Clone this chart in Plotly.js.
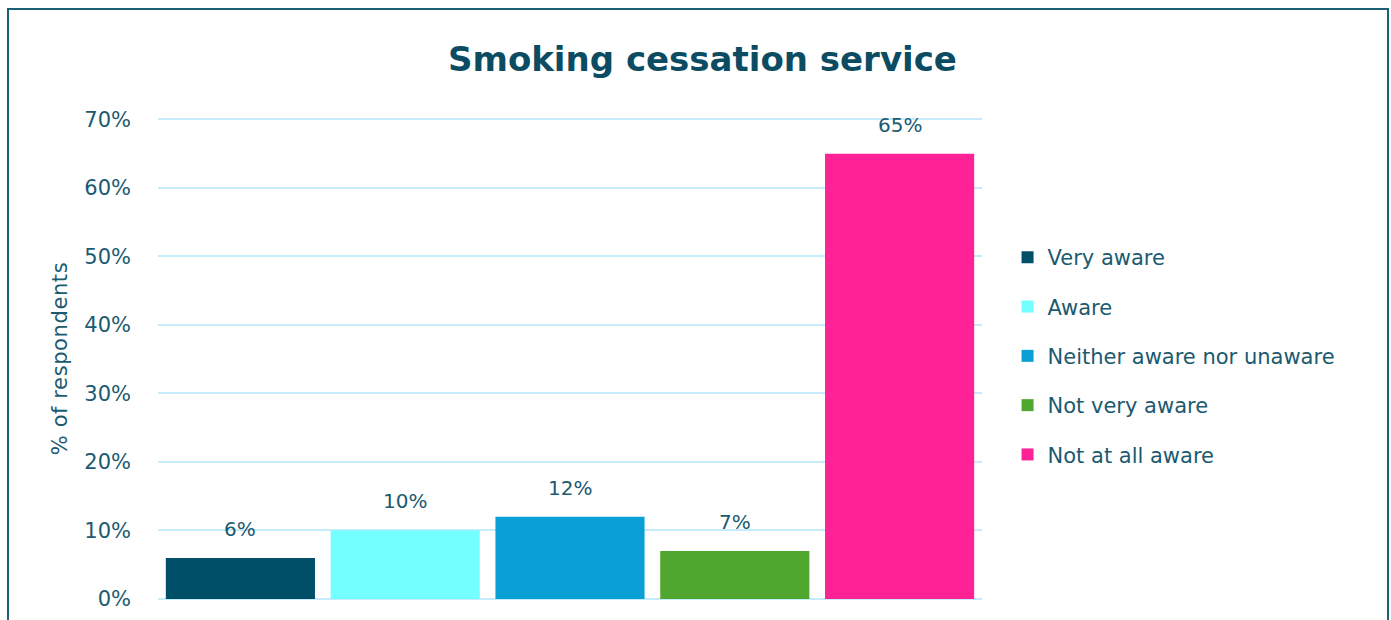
<!DOCTYPE html>
<html>
<head>
<meta charset="utf-8">
<script src="https://cdn.plot.ly/plotly-3.0.1.min.js"></script>
<style>
html,body{margin:0;padding:0;background:#fff;overflow:hidden;}
#chart{width:1391px;height:620px;}
#frame{position:absolute;left:7px;top:8px;width:1378px;height:640px;border:2px solid #1d5f74;pointer-events:none;}
#chart text.ytitle {letter-spacing:0.6px;}
</style>
</head>
<body>
<div id="chart"></div>
<div id="frame"></div>
<script>
const categories = ["Very aware","Aware","Neither aware nor unaware","Not very aware","Not at all aware"];
const values = [6,10,12,7,65];
const colors = ["#004f69","#73ffff","#0aa0d6","#4fa72f","#ff2196"];
const yTicks = [0,10,20,30,40,50,60,70];

const FONT = "DejaVu Sans, sans-serif";
const TXT = "#1b5a70";

const traces = categories.map((c,i)=>({
  type:"bar",
  name:c,
  x:[c],
  y:[values[i]],
  marker:{color:colors[i]},
  legendgroup:"g"+i,
  hoverinfo:"none",
  showlegend:true
}));

const annotations = categories.map((c,i)=>({
  x:c, y:values[i], xref:"x", yref:"y",
  text:values[i]+"%", showarrow:false,
  yanchor:"bottom", yshift:15,
  font:{family:FONT,size:20,color:TXT}
}));

const layout = {
  width:1391, height:620,
  margin:{l:158,r:409,t:118,b:21},
  paper_bgcolor:"#ffffff", plot_bgcolor:"#ffffff",
  barmode:"relative",
  bargap:0.095,
  title:{text:"<b>Smoking cessation service</b>", x:0.505, xref:"container", xanchor:"center", y:0.905, yref:"container", yanchor:"middle",
         font:{family:FONT,size:34,color:"#0c4c63"}},
  xaxis:{showticklabels:false, showgrid:false, zeroline:false, showline:false, ticks:""},
  yaxis:{range:[0,70.2], tickvals:yTicks, ticktext:yTicks.map(v=>v+"%"),
         showgrid:true, gridcolor:"#c6ecfb", gridwidth:2,
         zeroline:true, zerolinecolor:"#c6ecfb", zerolinewidth:2, showline:false,
         ticks:"", ticklabelstandoff:26,
         tickfont:{family:FONT,size:21,color:TXT},
         title:{text:"% of respondents", standoff:10, font:{family:FONT,size:21,color:TXT}}},
  legend:{x:1.031, xanchor:"left", y:0.505, yanchor:"middle", tracegroupgap:19,
          font:{family:FONT,size:21,color:TXT}, itemwidth:30},
  annotations:annotations,
  showlegend:true
};

Plotly.newPlot("chart", traces, layout, {displayModeBar:false, staticPlot:true});
</script>
</body>
</html>
